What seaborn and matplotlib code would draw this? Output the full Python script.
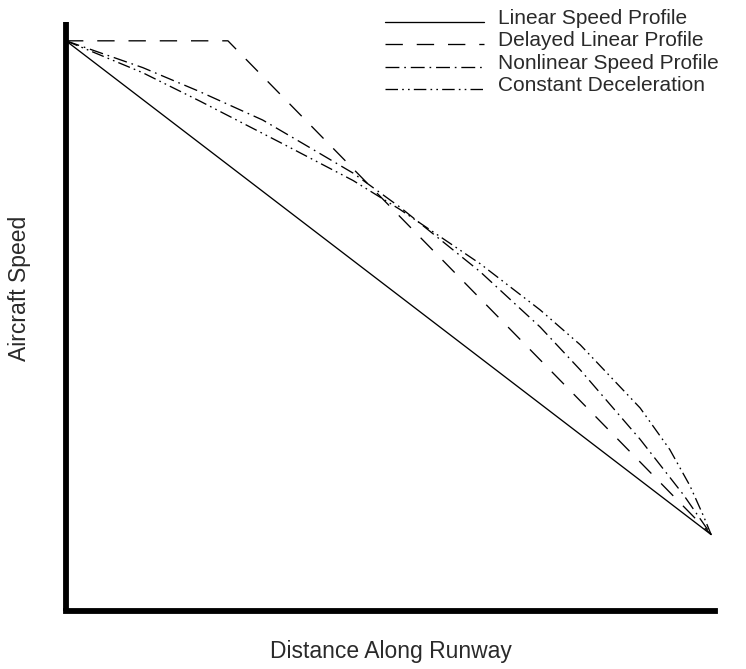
import numpy as np
import pandas as pd
import matplotlib
matplotlib.use("Agg")
import matplotlib.pyplot as plt
from matplotlib.lines import Line2D
from matplotlib.legend_handler import HandlerLine2D
import seaborn as sns

# Distance along runway (% of stopping distance) and aircraft speed (% of entry speed)
linear_dist = [0.0, 100.0]
linear_speed = [100.0, 13.4]

delayed_dist = [0.0, 25.1, 100.0]
delayed_speed = [100.0, 100.0, 13.4]

nonlinear_dist = [0.0, 11.9, 20.5, 30.5, 36.7, 44.5, 51.8, 64.2, 73.5, 79.7, 89.0, 95.7, 100.0]
nonlinear_speed = [100.0, 95.3, 91.2, 86.1, 82.0, 76.8, 70.8, 59.5, 49.8, 42.3, 30.1, 20.4, 13.4]

decel_dist = [0.0, 11.9, 20.8, 33.5, 44.5, 51.8, 64.2, 73.5, 79.7, 89.0, 93.6, 96.7, 98.8, 100.0]
decel_speed = [100.0, 94.4, 89.4, 82.0, 75.5, 70.4, 60.9, 52.8, 46.7, 35.6, 28.3, 22.0, 16.7, 13.4]

labels = ["Linear Speed Profile", "Delayed Linear Profile",
          "Nonlinear Speed Profile", "Constant Deceleration"]

sns.set_theme(style="white")
plt.rcParams["font.family"] = ["Liberation Sans", "DejaVu Sans"]
plt.rcParams["lines.scale_dashes"] = False

fig = plt.figure(figsize=(7.46, 6.69), dpi=100)
ax = fig.add_axes([66 / 746, 58 / 669, 649 / 746, 589 / 669])

styles = [
    "-",
    (0, (12.5, 10.0)),
    (0, (10.0, 3.5, 1.2, 3.5)),
    (0, (9.0, 3.0, 1.2, 3.0, 1.2, 3.0)),
]
series = [
    (linear_dist, linear_speed),
    (delayed_dist, delayed_speed),
    (nonlinear_dist, nonlinear_speed),
    (decel_dist, decel_speed),
]

for (d, s), ls, lab in zip(series, styles, labels):
    df = pd.DataFrame({"distance": d, "speed": s})
    sns.lineplot(data=df, x="distance", y="speed", ax=ax, color="black",
                 linewidth=0.95, linestyle=ls, estimator=None, sort=False,
                 label=lab, legend=False)

ax.set_xlim(0, 100.6)
ax.set_ylim(0, 103.3)
ax.set_xticks([])
ax.set_yticks([])
for side in ("top", "right"):
    ax.spines[side].set_visible(False)
for side in ("left", "bottom"):
    ax.spines[side].set_color("black")
    ax.spines[side].set_linewidth(4.2)
ax.spines["left"].set_capstyle("butt")
ax.spines["bottom"].set_capstyle("projecting")

text_color = "#2a2a2a"
ax.set_xlabel("Distance Along Runway", fontsize=16.5, color=text_color)
ax.set_ylabel("Aircraft Speed", fontsize=16.5, color=text_color)
ax.xaxis.set_label_coords(0.5, -0.05)
ax.yaxis.set_label_coords(-0.054, 0.548)


class BaselineHandler(HandlerLine2D):
    """Draws the legend sample along the text baseline, like an underline."""

    def create_artists(self, legend, orig_handle, xdescent, ydescent,
                       width, height, fontsize, trans):
        artists = super().create_artists(legend, orig_handle, xdescent, ydescent,
                                         width, height, fontsize, trans)
        for a in artists:
            if isinstance(a, Line2D):
                a.set_ydata(np.asarray(a.get_ydata(), dtype=float) - 0.36 * height)
        return artists


handles = [Line2D([], [], color="black", linewidth=0.95, linestyle=ls) for ls in styles]
leg = ax.legend(handles, labels, loc="upper left",
                bbox_to_anchor=(385 / 746, 1 - 9 / 669), bbox_transform=fig.transFigure,
                frameon=False, fontsize=15, borderpad=0, borderaxespad=0,
                handlelength=4.75, handletextpad=0.68, labelspacing=0.16,
                handler_map={Line2D: BaselineHandler()})
for t in leg.get_texts():
    t.set_color(text_color)

fig.savefig("out.png", dpi=100, facecolor="white")
